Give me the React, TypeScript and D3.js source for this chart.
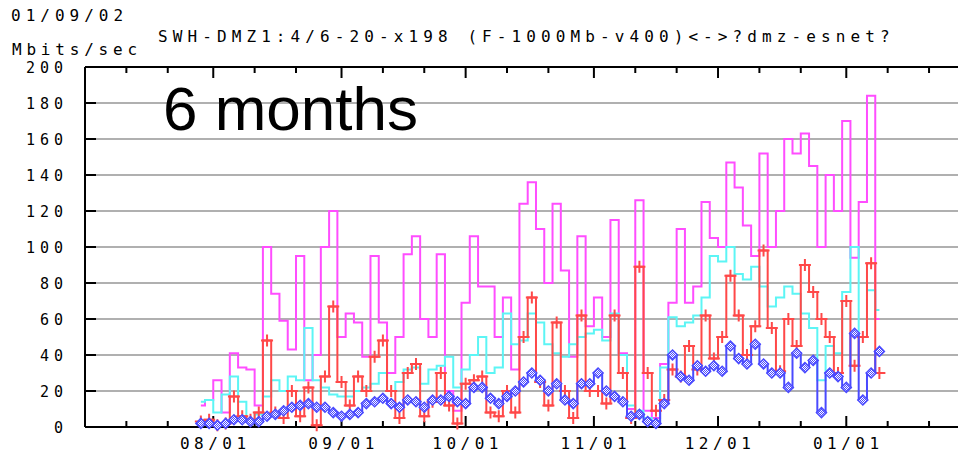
import React from "react";
import * as d3 from "d3";

// samples every 2 days, starting 2001-07-29
const startDate = new Date(2001, 6, 29);
const stepDays = 2;

const magentaValues = [
  12, 15, 26, 8, 41, 33, 32, 12, 100, 74, 59, 43, 95, 26, 40, 100, 120, 50, 63, 58,
  39, 95, 58, 30, 50, 96, 106, 60, 50, 96, 20, 9, 69, 106, 78, 78, 50, 72, 32, 124,
  136, 110, 80, 124, 87, 39, 106, 56, 72, 50, 115, 41, 10, 126, 9, 5, 35, 69, 110, 69,
  78, 125, 105, 100, 147, 133, 112, 95, 152, 100, 120, 160, 152, 163, 145, 100, 140, 120, 170, 94,
  125, 184, 60,
];
const cyanValues = [
  14, 15, 8, 18, 28, 14, 4, 7, 17, 26, 20, 28, 26, 55, 26, 22, 18, 17, 17, 20,
  22, 24, 30, 20, 25, 32, 33, 24, 32, 34, 39, 22, 32, 40, 50, 30, 33, 63, 46, 48,
  63, 58, 46, 41, 39, 46, 50, 52, 54, 48, 63, 40, 12, 9, 5, 3, 33, 61, 56, 58,
  62, 72, 95, 92, 100, 85, 82, 89, 78, 67, 72, 78, 74, 63, 55, 26, 45, 41, 75, 100,
  50, 76, 65,
];
const redValues = [
  3, 4, 1, 2, 17, 6, 4, 8, 48, 8, 5, 20, 6, 22, 1, 28, 67, 25, 12, 28,
  20, 39, 48, 20, 5, 30, 35, 6, 14, 30, 12, 2, 24, 26, 28, 8, 6, 20, 8, 50,
  72, 25, 12, 58, 20, 5, 62, 20, 20, 13, 62, 30, 5, 89, 30, 9, 15, 32, 28, 45,
  32, 62, 38, 50, 84, 62, 40, 56, 98, 55, 31, 60, 45, 90, 75, 60, 50, 30, 70, 34,
  50, 91, 30,
];
const blueValues = [
  2, 2, 1, 2, 4, 4, 3, 3, 6, 7, 9, 11, 12, 13, 11, 11, 8, 6, 7, 8,
  13, 14, 16, 13, 11, 15, 14, 11, 15, 15, 17, 14, 13, 22, 22, 16, 13, 17, 20, 25,
  30, 26, 20, 24, 15, 13, 24, 24, 30, 20, 17, 14, 6, 7, 3, 2, 13, 40, 28, 26,
  34, 31, 34, 31, 45, 38, 35, 46, 35, 30, 30, 22, 41, 33, 37, 8, 30, 28, 22, 52,
  15, 30, 42,
];

const yTicks = [0, 20, 40, 60, 80, 100, 120, 140, 160, 180, 200];
const monthLabels = ["08/01", "09/01", "10/01", "11/01", "12/01", "01/01"];

const W = 961;
const H = 459;
const left = 85;
const right = 958;
const top = 67;
const bottom = 427;
const mono = "'DejaVu Sans Mono', 'Liberation Mono', monospace";

const App = () => {
  const x = d3
    .scaleTime()
    .domain([new Date(2001, 6, 1), new Date(2002, 0, 28)])
    .range([left, right]);
  const y = d3.scaleLinear().domain([0, 200]).range([bottom, top]);

  const dateAt = (i: number) => d3.timeDay.offset(startDate, i * stepDays);
  const toPoints = (vals: number[]) => vals.map((v, i) => ({ d: dateAt(i), v }));

  // stepped lines, like the original MRTG-style plot
  const line = d3
    .line<{ d: Date; v: number }>()
    .x((p) => x(p.d))
    .y((p) => y(p.v))
    .curve(d3.curveStep);

  // day 1, 11, 21 ticks
  const allTicks = d3.timeDay
    .range(new Date(2001, 6, 1), new Date(2002, 0, 29))
    .filter((d) => [1, 11, 21].includes(d.getDate()));
  const majorTicks = allTicks.filter((d) => d.getDate() === 1);

  const red = toPoints(redValues);
  const blue = toPoints(blueValues);

  return (
    <svg
      width={W}
      height={H}
      style={{ position: "absolute", left: 0, top: 0, background: "#fff" }}
    >
      <defs>
        <pattern id="dots" width="2" height="2" patternUnits="userSpaceOnUse">
          <rect width="2" height="2" fill="#ffffff" />
          <rect width="1" height="1" fill="#4a4aff" />
          <rect x="1" y="1" width="1" height="1" fill="#4a4aff" />
        </pattern>
      </defs>

      {/* grid */}
      {yTicks
        .filter((t) => t > 0 && t < 200)
        .map((t) => (
          <line
            key={"g" + t}
            x1={left}
            x2={right}
            y1={y(t)}
            y2={y(t)}
            stroke="#b0b0b0"
            strokeWidth={2}
          />
        ))}

      {/* frame */}
      <line x1={left} x2={right} y1={top} y2={top} stroke="#000" strokeWidth={2} />
      <line x1={left} x2={right} y1={bottom} y2={bottom} stroke="#000" strokeWidth={2} />
      <line x1={left} x2={left} y1={top} y2={bottom} stroke="#000" strokeWidth={2} />

      {/* y ticks */}
      {yTicks.map((t) => (
        <g key={"y" + t}>
          <line x1={left} x2={left + 11} y1={y(t)} y2={y(t)} stroke="#000" strokeWidth={2} />
          <text
            x={68}
            y={y(t) + 6}
            textAnchor="end"
            fontFamily={mono}
            fontSize={15}
            letterSpacing={5}
            fill="#000"
          >
            {t}
          </text>
        </g>
      ))}

      {/* x ticks */}
      {allTicks.map((d, i) => {
        const major = d.getDate() === 1;
        const len = major ? 11 : 6;
        return (
          <g key={"x" + i}>
            <line x1={x(d)} x2={x(d)} y1={top} y2={top + len} stroke="#000" strokeWidth={2} />
            <line x1={x(d)} x2={x(d)} y1={bottom} y2={bottom - len} stroke="#000" strokeWidth={2} />
          </g>
        );
      })}
      {majorTicks.slice(1, 1 + monthLabels.length).map((d, i) => (
        <text
          key={"xl" + i}
          x={x(d) + 2}
          y={449}
          textAnchor="middle"
          fontFamily={mono}
          fontSize={16}
          letterSpacing={4.5}
          fill="#000"
        >
          {monthLabels[i]}
        </text>
      ))}

      {/* series */}
      <path d={line(toPoints(magentaValues)) || ""} fill="none" stroke="#ff4dff" strokeWidth={2} />
      <path d={line(toPoints(cyanValues)) || ""} fill="none" stroke="#5cf5f5" strokeWidth={2} />
      <path d={line(red) || ""} fill="none" stroke="#ff4848" strokeWidth={2} />
      {red.map((p, i) => (
        <path
          key={"r" + i}
          d={`M${x(p.d) - 6},${y(p.v)}h12M${x(p.d)},${y(p.v) - 6}v12`}
          stroke="#ff4848"
          strokeWidth={2}
        />
      ))}
      <path d={line(blue) || ""} fill="none" stroke="#4a4aff" strokeWidth={2} />
      {blue.map((p, i) => (
        <path
          key={"b" + i}
          d={`M${x(p.d)},${y(p.v) - 5}l5,5l-5,5l-5,-5z`}
          fill="url(#dots)"
          stroke="#4a4aff"
          strokeWidth={1.5}
        />
      ))}

      {/* texts */}
      <text x={11} y={21} fontFamily={mono} fontSize={16} letterSpacing={5} fill="#000">
        01/09/02
      </text>
      <text x={158} y={42} fontFamily={mono} fontSize={16} letterSpacing={5.1} fill="#000">
        SWH-DMZ1:4/6-20-x198 (F-1000Mb-v400)&lt;-&gt;?dmz-esnet?
      </text>
      <text x={12} y={55} fontFamily={mono} fontSize={16} letterSpacing={4.8} fill="#000">
        Mbits/sec
      </text>
      <text
        x={163}
        y={130}
        fontFamily="'Liberation Sans', Arial, sans-serif"
        fontSize={62}
        fill="#000"
      >
        6 months
      </text>
    </svg>
  );
};

export default App;
